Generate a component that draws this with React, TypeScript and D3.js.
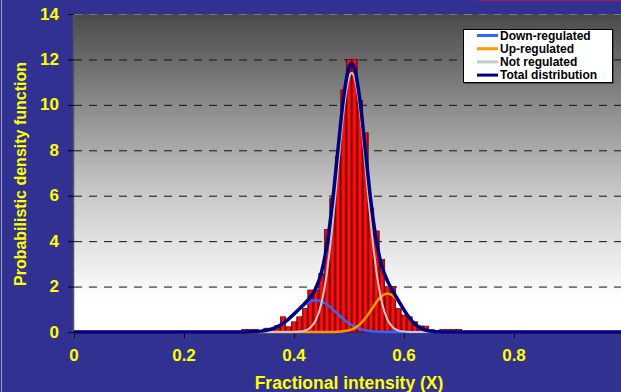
import { useEffect, useRef } from 'react'
import * as d3 from 'd3'

const FONT = '"Liberation Sans", Arial, sans-serif'
const YELLOW = '#FFFF00'
const NAVY_BG = '#313192'

// histogram: bin centres and heights
const BIN_X = [
  0.31, 0.32, 0.33, 0.34, 0.35, 0.36, 0.37, 0.38, 0.39, 0.40,
  0.41, 0.42, 0.43, 0.44, 0.45, 0.46, 0.47, 0.48, 0.49, 0.50,
  0.51, 0.52, 0.53, 0.54, 0.55, 0.56, 0.57, 0.58, 0.59, 0.60,
  0.61, 0.62, 0.63, 0.64, 0.65, 0.66, 0.67, 0.68, 0.69, 0.70,
  0.71, 0.72, 0.73, 0.74, 0.75, 0.76, 0.77, 0.78,
]
const BIN_VALUES = [
  0.12, 0.12, 0.12, 0.03, 0.17, 0.17, 0.28, 0.67, 0.23, 0.45,
  0.67, 1.04, 1.85, 1.85, 2.58, 4.52, 5.9, 7.72, 10.66, 12.0,
  12.0, 10.2, 8.77, 5.46, 4.45, 3.2, 2.0, 2.0, 1.04, 0.75,
  0.67, 0.45, 0.27, 0.26, 0.1, 0.03, 0.12, 0.12, 0.12, 0.12,
  0.03, 0.03, 0.02, 0.02, 0.02, 0.02, 0.02, 0.02,
]

const CURVE_X = [
  0, 0.30, 0.31, 0.32, 0.33, 0.34, 0.35, 0.36, 0.37, 0.38, 0.39,
  0.40, 0.41, 0.42, 0.43, 0.44, 0.45, 0.46, 0.47, 0.48, 0.49,
  0.50, 0.505, 0.51, 0.52, 0.53, 0.54, 0.55, 0.56, 0.57, 0.58, 0.59,
  0.60, 0.61, 0.62, 0.63, 0.64, 0.65, 0.66, 0.67, 0.68, 0.69, 0.70, 1.0,
]
const DOWN = [
  0, 0.001, 0.003, 0.008, 0.018, 0.038, 0.075, 0.139, 0.239, 0.382, 0.568,
  0.786, 1.012, 1.212, 1.35, 1.4, 1.35, 1.212, 1.012, 0.786, 0.568,
  0.382, 0.305, 0.239, 0.139, 0.075, 0.038, 0.018, 0.008, 0.003, 0.001, 0,
  0, 0, 0, 0, 0, 0, 0, 0, 0, 0, 0, 0,
]
const UP = [
  0, 0, 0, 0, 0, 0, 0, 0, 0, 0, 0,
  0, 0, 0, 0, 0, 0, 0, 0.003, 0.01, 0.029,
  0.075, 0.115, 0.171, 0.345, 0.613, 0.958, 1.317, 1.595, 1.7, 1.595, 1.317,
  0.958, 0.613, 0.345, 0.171, 0.075, 0.029, 0.01, 0.003, 0, 0, 0, 0,
]
const NOT_REG = [
  0, 0, 0, 0, 0, 0, 0, 0, 0, 0, 0.001,
  0.004, 0.017, 0.061, 0.195, 0.538, 1.28, 2.638, 4.703, 7.256, 9.689,
  11.196, 11.4, 11.196, 9.689, 7.256, 4.703, 2.638, 1.28, 0.538, 0.195, 0.061,
  0.017, 0.004, 0.001, 0, 0, 0, 0, 0, 0, 0, 0, 0,
]
const TOTAL = [
  0, 0.001, 0.003, 0.008, 0.018, 0.038, 0.075, 0.139, 0.239, 0.382, 0.569,
  0.79, 1.029, 1.273, 1.545, 1.938, 2.63, 3.85, 5.718, 8.052, 10.286,
  11.653, 11.82, 11.606, 10.173, 7.944, 5.699, 3.973, 2.883, 2.241, 1.791, 1.378,
  0.975, 0.617, 0.346, 0.171, 0.075, 0.029, 0.01, 0.003, 0, 0, 0, 0,
]

const Y_TICKS = [0, 2, 4, 6, 8, 10, 12, 14]
const X_TICKS = [0, 0.2, 0.4, 0.6, 0.8]

const SERIES = [
  { label: 'Down-regulated',     values: DOWN,    color: '#3366FF', width: 2.5 },
  { label: 'Up-regulated',       values: UP,      color: '#FF9900', width: 2.5 },
  { label: 'Not regulated',      values: NOT_REG, color: '#C8C8C8', width: 2 },
  { label: 'Total distribution', values: TOTAL,   color: '#000080', width: 3.5 },
]

export default function App() {
  const svgRef = useRef<SVGSVGElement | null>(null)

  useEffect(() => {
    document.body.style.margin = '0'
    if (!svgRef.current) return

    const W = 621, H = 392
    const left = 74, top = 14, bottom = 332, right = 624

    const svg = d3.select(svgRef.current)
    svg.selectAll('*').remove()
    svg.attr('width', W).attr('height', H)

    const x = d3.scaleLinear().domain([0, 1]).range([left, right])
    const y = d3.scaleLinear().domain([0, 14]).range([bottom, top])

    const defs = svg.append('defs')
    const bg = defs.append('linearGradient').attr('id', 'plotbg')
      .attr('x1', 0).attr('y1', 0).attr('x2', 0).attr('y2', 1)
    bg.append('stop').attr('offset', '0%').attr('stop-color', '#4a4a4a')
    bg.append('stop').attr('offset', '55%').attr('stop-color', '#c6c6c6')
    bg.append('stop').attr('offset', '90%').attr('stop-color', '#ffffff')
    bg.append('stop').attr('offset', '100%').attr('stop-color', '#ffffff')

    const barGrad = defs.append('linearGradient').attr('id', 'bargrad')
      .attr('x1', 0).attr('y1', 0).attr('x2', 1).attr('y2', 0)
    barGrad.append('stop').attr('offset', '0%').attr('stop-color', '#a00000')
    barGrad.append('stop').attr('offset', '40%').attr('stop-color', '#ff1010')
    barGrad.append('stop').attr('offset', '60%').attr('stop-color', '#ff1010')
    barGrad.append('stop').attr('offset', '100%').attr('stop-color', '#900000')

    // outer background
    svg.append('rect').attr('width', W).attr('height', H).attr('fill', NAVY_BG)
    svg.append('line').attr('x1', 1.5).attr('x2', 1.5).attr('y1', 0).attr('y2', H)
      .attr('stroke', '#9a9ac8').attr('stroke-width', 1)
    svg.append('line').attr('x1', 478).attr('x2', W).attr('y1', 0.5).attr('y2', 0.5)
      .attr('stroke', '#8a2060').attr('stroke-width', 1.5)

    // plot area
    svg.append('rect')
      .attr('x', left).attr('y', top)
      .attr('width', right - left).attr('height', bottom - top)
      .attr('fill', 'url(#plotbg)')

    // grid
    svg.append('g').selectAll('line')
      .data(Y_TICKS.filter(t => t > 0)).enter().append('line')
      .attr('x1', left).attr('x2', right)
      .attr('y1', d => y(d) + 0.5).attr('y2', d => y(d) + 0.5)
      .attr('stroke', d => d === 14 ? '#7a7a7a' : '#111')
      .attr('stroke-width', 1)
      .attr('stroke-dasharray', '8,7')

    // bars
    const bw = x(0.01) - x(0)
    svg.append('g').selectAll('rect')
      .data(BIN_X).enter().append('rect')
      .attr('x', d => x(d) - bw / 2)
      .attr('width', bw)
      .attr('y', (d, i) => y(BIN_VALUES[i]))
      .attr('height', (d, i) => y(0) - y(BIN_VALUES[i]))
      .attr('fill', 'url(#bargrad)')
      .attr('stroke', '#500000').attr('stroke-width', 0.6)

    // axes
    svg.append('line').attr('x1', left - 0.5).attr('x2', left - 0.5)
      .attr('y1', top).attr('y2', bottom)
      .attr('stroke', '#555').attr('stroke-width', 1.5)

    svg.append('g').selectAll('line')
      .data(Y_TICKS).enter().append('line')
      .attr('x1', left - 6).attr('x2', left)
      .attr('y1', d => y(d) + 0.5).attr('y2', d => y(d) + 0.5)
      .attr('stroke', '#000').attr('stroke-width', 1)

    svg.append('g').selectAll('line')
      .data(X_TICKS).enter().append('line')
      .attr('x1', d => x(d) + 0.5).attr('x2', d => x(d) + 0.5)
      .attr('y1', bottom).attr('y2', bottom + 6)
      .attr('stroke', '#000').attr('stroke-width', 1)

    // curves
    const line = d3.line<number>()
      .x((d, i) => x(CURVE_X[i]))
      .y(d => y(d))
      .curve(d3.curveMonotoneX)

    SERIES.forEach(s => {
      svg.append('path')
        .attr('d', line(s.values))
        .attr('fill', 'none')
        .attr('stroke', s.color)
        .attr('stroke-width', s.width)
        .attr('stroke-linejoin', 'round')
    })

    // tick labels
    svg.append('g').selectAll('text')
      .data(Y_TICKS).enter().append('text')
      .attr('x', 59).attr('y', d => y(d))
      .attr('text-anchor', 'end').attr('dominant-baseline', 'central')
      .attr('fill', YELLOW).attr('font-family', FONT)
      .attr('font-size', '17px').attr('font-weight', 'bold')
      .text(d => d)

    svg.append('g').selectAll('text')
      .data(X_TICKS).enter().append('text')
      .attr('x', d => x(d)).attr('y', 355)
      .attr('text-anchor', 'middle').attr('dominant-baseline', 'central')
      .attr('fill', YELLOW).attr('font-family', FONT)
      .attr('font-size', '17px').attr('font-weight', 'bold')
      .text(d => d)

    // axis titles
    svg.append('text')
      .attr('x', 349).attr('y', 383)
      .attr('text-anchor', 'middle').attr('dominant-baseline', 'central')
      .attr('fill', YELLOW).attr('font-family', FONT)
      .attr('font-size', '17.5px').attr('font-weight', 'bold')
      .text('Fractional intensity (X)')

    svg.append('text')
      .attr('transform', 'translate(20,174) rotate(-90)')
      .attr('text-anchor', 'middle').attr('dominant-baseline', 'central')
      .attr('fill', YELLOW).attr('font-family', FONT)
      .attr('font-size', '16px').attr('font-weight', 'bold')
      .text('Probabilistic density function')

    // legend
    const lg = svg.append('g').attr('transform', 'translate(463,29)')
    lg.append('rect').attr('x', 1.5).attr('y', 1.5).attr('width', 149).attr('height', 53)
      .attr('fill', '#222')
    lg.append('rect').attr('x', 0.5).attr('y', 0.5).attr('width', 149).attr('height', 53)
      .attr('fill', '#fff').attr('stroke', '#000').attr('stroke-width', 1)
    SERIES.forEach((s, i) => {
      const cy = 6.5 + i * 13.2
      lg.append('line').attr('x1', 14).attr('x2', 35).attr('y1', cy).attr('y2', cy)
        .attr('stroke', s.color).attr('stroke-width', 3)
      lg.append('text').attr('x', 37).attr('y', cy)
        .attr('dominant-baseline', 'central')
        .attr('fill', '#000').attr('font-family', FONT)
        .attr('font-size', '12px').attr('font-weight', 'bold')
        .text(s.label)
    })
  }, [])

  return <svg ref={svgRef} style={{ display: 'block' }} />
}
